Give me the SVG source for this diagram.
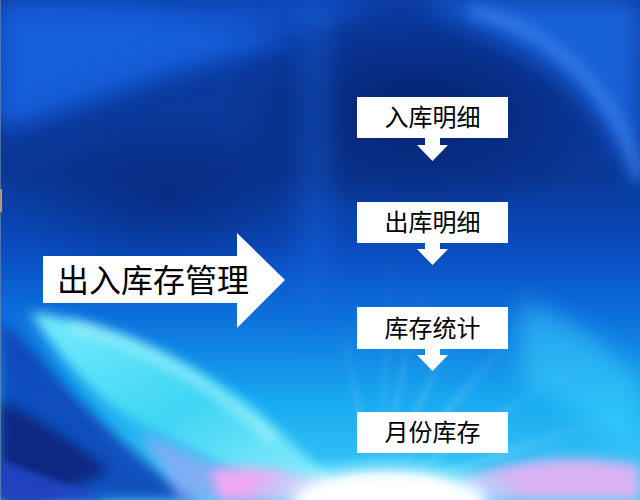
<svg xmlns="http://www.w3.org/2000/svg" width="640" height="500" viewBox="0 0 640 500">
<defs>
<linearGradient id="bg" x1="0" y1="0" x2="0" y2="1">
<stop offset="0" stop-color="#0b3da6"/>
<stop offset="0.35" stop-color="#0a3796"/>
<stop offset="0.5" stop-color="#0a4cc0"/>
<stop offset="0.62" stop-color="#0c6cda"/>
<stop offset="0.8" stop-color="#18a8f0"/>
<stop offset="1" stop-color="#40d0f8"/>
</linearGradient>
<linearGradient id="cy" x1="0" y1="0" x2="1" y2="1">
<stop offset="0" stop-color="#7ff4ff"/>
<stop offset="0.5" stop-color="#40d8f4"/>
<stop offset="1" stop-color="#a0f4ff"/>
</linearGradient>
<radialGradient id="glow" cx="0.5" cy="0.5" r="0.5">
<stop offset="0" stop-color="#ffffff" stop-opacity="1"/>
<stop offset="0.45" stop-color="#f0fcff" stop-opacity="0.9"/>
<stop offset="1" stop-color="#60e8ff" stop-opacity="0"/>
</radialGradient>
<radialGradient id="dark" cx="0.5" cy="0.5" r="0.5">
<stop offset="0" stop-color="#04206a" stop-opacity="0.9"/>
<stop offset="1" stop-color="#04206a" stop-opacity="0"/>
</radialGradient>
<radialGradient id="rays" cx="0.5" cy="1" r="1">
<stop offset="0" stop-color="#ffffff" stop-opacity="0.7"/>
<stop offset="0.6" stop-color="#ffffff" stop-opacity="0.1"/>
<stop offset="1" stop-color="#ffffff" stop-opacity="0"/>
</radialGradient>
<filter id="b12" x="-50%" y="-50%" width="200%" height="200%"><feGaussianBlur stdDeviation="12"/></filter>
<filter id="b6" x="-50%" y="-50%" width="200%" height="200%"><feGaussianBlur stdDeviation="6"/></filter>
<filter id="b3" x="-50%" y="-50%" width="200%" height="200%"><feGaussianBlur stdDeviation="3"/></filter>
<style>
.box{fill:#ffffff}
.lbl{font-family:"Noto Sans CJK SC","Liberation Sans",sans-serif;font-size:24px;fill:#000000;text-anchor:middle}
.big{font-family:"Noto Sans CJK SC","Liberation Sans",sans-serif;font-size:32px;fill:#000000}
.arr{fill:#ffffff}
</style>
</defs>

<g id="background">
<rect width="640" height="500" fill="url(#bg)"/>
<ellipse cx="420" cy="110" rx="200" ry="110" fill="url(#dark)"/>
<ellipse cx="170" cy="200" rx="160" ry="90" fill="url(#dark)" opacity="0.6"/>
<path d="M0 10 C80 0 200 20 300 40 C200 60 100 100 0 130 Z" fill="#1b6cf0" opacity="0.7" filter="url(#b12)"/>
<path d="M0 0 L380 0 C330 30 250 30 150 60 C90 80 40 110 0 120 Z" fill="#145fdd" opacity="0.55" filter="url(#b12)"/>
<path d="M420 0 L640 0 L640 200 C620 130 570 70 500 40 C470 25 440 10 420 0 Z" fill="#1d6ae6" opacity="0.8" filter="url(#b12)"/>
<path d="M470 10 C560 30 620 100 640 180" stroke="#4a8cf5" stroke-width="14" fill="none" opacity="0.5" filter="url(#b6)"/>
<rect x="300" y="0" width="30" height="330" fill="#1d68e0" opacity="0.35" filter="url(#b12)"/>
<g opacity="0.6" filter="url(#b3)">
<polygon points="378,495 420,260 430,260" fill="url(#rays)"/>
<polygon points="378,495 470,280 482,284" fill="url(#rays)"/>
<polygon points="378,495 530,300 545,306" fill="url(#rays)"/>
<polygon points="378,495 600,340 612,350" fill="url(#rays)"/>
<polygon points="378,495 330,300 340,298" fill="url(#rays)"/>
<polygon points="378,495 390,240 398,240" fill="url(#rays)"/>
<polygon points="378,495 640,400 640,415" fill="url(#rays)"/>
</g>
<!-- left blue area -->
<path d="M0 320 C30 340 50 370 80 400 C110 430 150 470 200 500 L0 500 Z" fill="#0d44b8" opacity="0.9" filter="url(#b6)"/>
<path d="M0 400 C40 420 80 445 110 472 L40 500 L0 500 Z" fill="#0a2478" opacity="0.85" filter="url(#b6)"/>
<path d="M0 460 C40 475 80 488 110 500 L0 500 Z" fill="#2244c4" opacity="0.9" filter="url(#b3)"/>
<!-- cyan swoosh -->
<path d="M30 312 C110 322 190 360 250 405 C290 440 320 470 350 495 L300 500 C250 478 200 455 150 430 C100 405 60 360 30 312 Z" fill="url(#cy)" opacity="0.95" filter="url(#b6)"/>
<path d="M70 325 C150 345 220 390 275 440" stroke="#c8fcff" stroke-width="10" fill="none" opacity="0.55" filter="url(#b6)"/>
<!-- lavender band -->
<path d="M140 432 C190 452 230 472 280 500 L180 500 C170 480 155 456 140 432 Z" fill="#9ea6f4" opacity="0.7" filter="url(#b6)"/>
<!-- right cyan area -->
<path d="M520 300 C580 320 620 360 640 380 L640 460 C600 430 560 400 520 380 Z" fill="#40d8ff" opacity="0.5" filter="url(#b12)"/>
<!-- pink glows -->
<path d="M210 470 C250 462 300 472 340 490 L340 500 L220 500 Z" fill="#f6a8f4" opacity="0.95" filter="url(#b6)"/>
<path d="M460 480 C520 455 590 455 640 465 L640 500 L470 500 Z" fill="#f6b0f4" opacity="0.85" filter="url(#b6)"/>
<!-- white glow -->
<ellipse cx="385" cy="492" rx="140" ry="38" fill="url(#glow)"/>
<ellipse cx="390" cy="500" rx="95" ry="22" fill="#ffffff" filter="url(#b6)"/>
<rect x="0" y="189" width="2" height="23" fill="#e8a020"/>
<rect x="0" y="0" width="1" height="500" fill="#8090a8" opacity="0.6"/>
</g>

<g id="main-arrow">
<polygon class="arr" points="43,256 237,256 237,233 285,280 237,328 237,303 43,303"/>
<text class="big" x="57" y="292">出入库存管理</text>
</g>

<g id="connectors">
<polygon class="arr" points="425,138 440,138 440,145 448,145 432.5,161 417,145 425,145"/>
<polygon class="arr" points="425,243 440,243 440,249 448,249 432.5,265 417,249 425,249"/>
<polygon class="arr" points="425,349 440,349 440,355 448,355 432.5,371 417,355 425,355"/>
</g>

<g id="node-1">
<rect class="box" x="357" y="97" width="151" height="41"/>
<text class="lbl" x="432.5" y="126">入库明细</text>
</g>
<g id="node-2">
<rect class="box" x="357" y="202" width="151" height="41"/>
<text class="lbl" x="432.5" y="231">出库明细</text>
</g>
<g id="node-3">
<rect class="box" x="357" y="307" width="151" height="42"/>
<text class="lbl" x="432.5" y="337">库存统计</text>
</g>
<g id="node-4">
<rect class="box" x="357" y="412" width="151" height="41"/>
<text class="lbl" x="432.5" y="441">月份库存</text>
</g>
</svg>
